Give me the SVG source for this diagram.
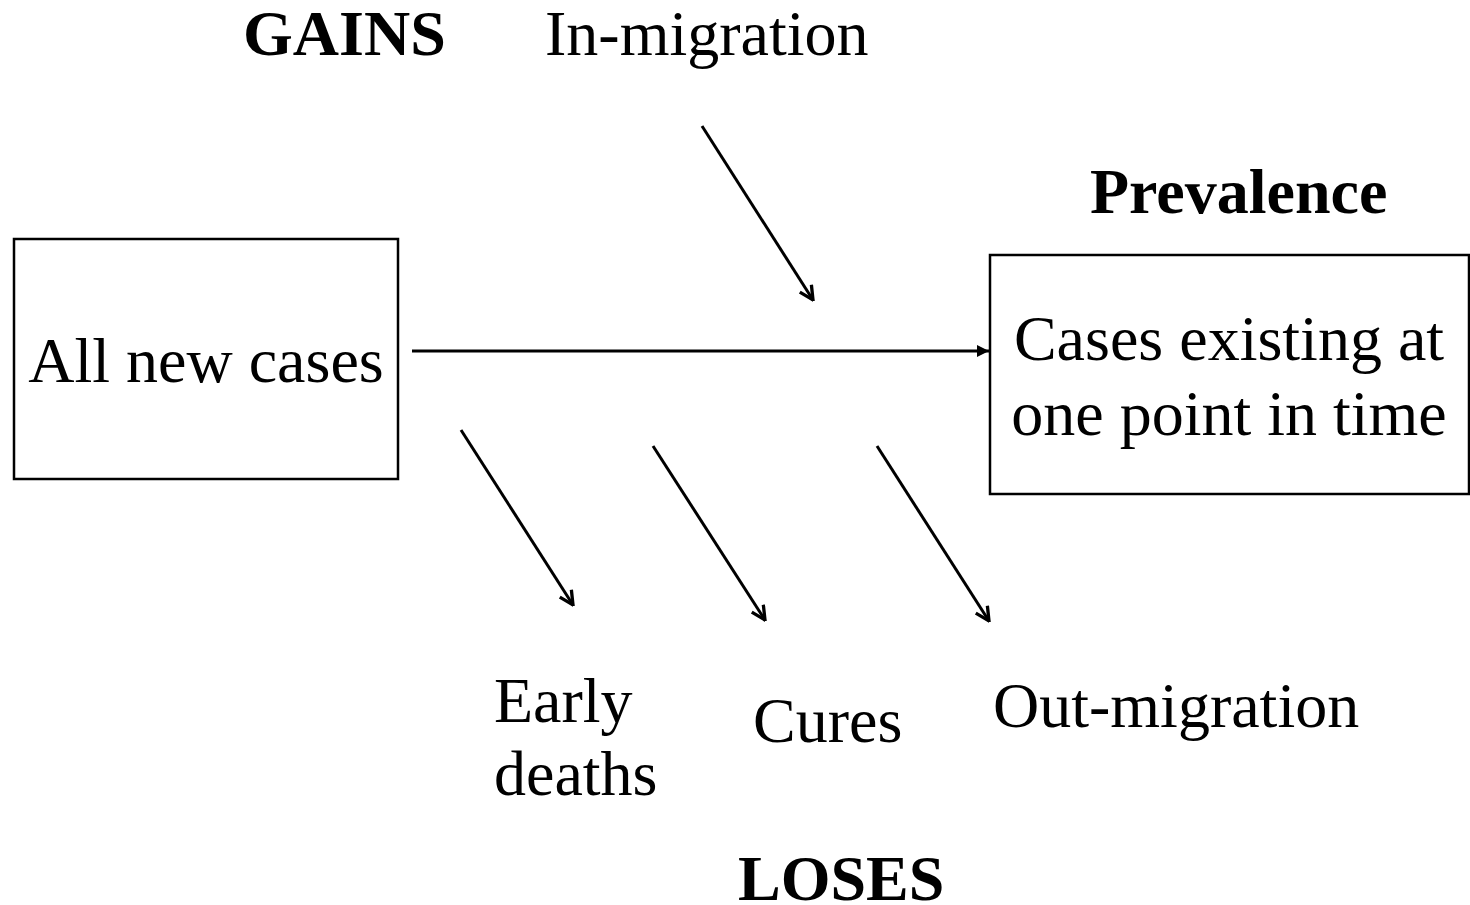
<svg xmlns="http://www.w3.org/2000/svg" width="1470" height="905" viewBox="0 0 1470 905">
<style>
text{font-family:"Liberation Serif","Times New Roman",serif;font-size:64px;fill:#000}
.b{font-weight:bold}
.box{fill:#fff;stroke:#000;stroke-width:2.5}
.ln{stroke:#000;stroke-width:3;fill:none}
</style>
<defs>
<marker id="v" viewBox="0 0 12 12" refX="11" refY="6" markerWidth="5.5" markerHeight="5.5" orient="auto" markerUnits="strokeWidth">
<path d="M1,1 L11,6 L1,11" fill="none" stroke="#000" stroke-width="2.4"/>
</marker>
<marker id="t" viewBox="0 0 10 10" refX="10" refY="5" markerWidth="4" markerHeight="4" orient="auto" markerUnits="strokeWidth">
<path d="M0,0 L10,5 L0,10 z" fill="#000"/>
</marker>
</defs>
<rect width="1470" height="905" fill="#fff"/>
<text class="b" x="243" y="55">GAINS</text>
<text x="545" y="55">In-migration</text>
<text class="b" x="1090" y="213">Prevalence</text>
<g id="newcases">
<rect class="box" x="14" y="239" width="384" height="240"/>
<text x="206" y="382" text-anchor="middle">All new cases</text>
</g>
<g id="prevalence">
<rect class="box" x="990" y="255" width="479" height="239"/>
<text x="1229" y="360" text-anchor="middle">Cases existing at</text>
<text x="1229" y="435" text-anchor="middle">one point in time</text>
</g>
<g id="connectors">
<line class="ln" x1="412" y1="351" x2="989" y2="351" marker-end="url(#t)"/>
<line class="ln" x1="702" y1="126" x2="813" y2="300" marker-end="url(#v)"/>
<line class="ln" x1="461" y1="430" x2="573" y2="605" marker-end="url(#v)"/>
<line class="ln" x1="653" y1="446" x2="765" y2="620" marker-end="url(#v)"/>
<line class="ln" x1="877" y1="446" x2="989" y2="621" marker-end="url(#v)"/>
</g>
<text x="494" y="722">Early</text>
<text x="494" y="795">deaths</text>
<text x="753" y="742">Cures</text>
<text x="993" y="727">Out-migration</text>
<text class="b" x="738" y="900">LOSES</text>
</svg>
